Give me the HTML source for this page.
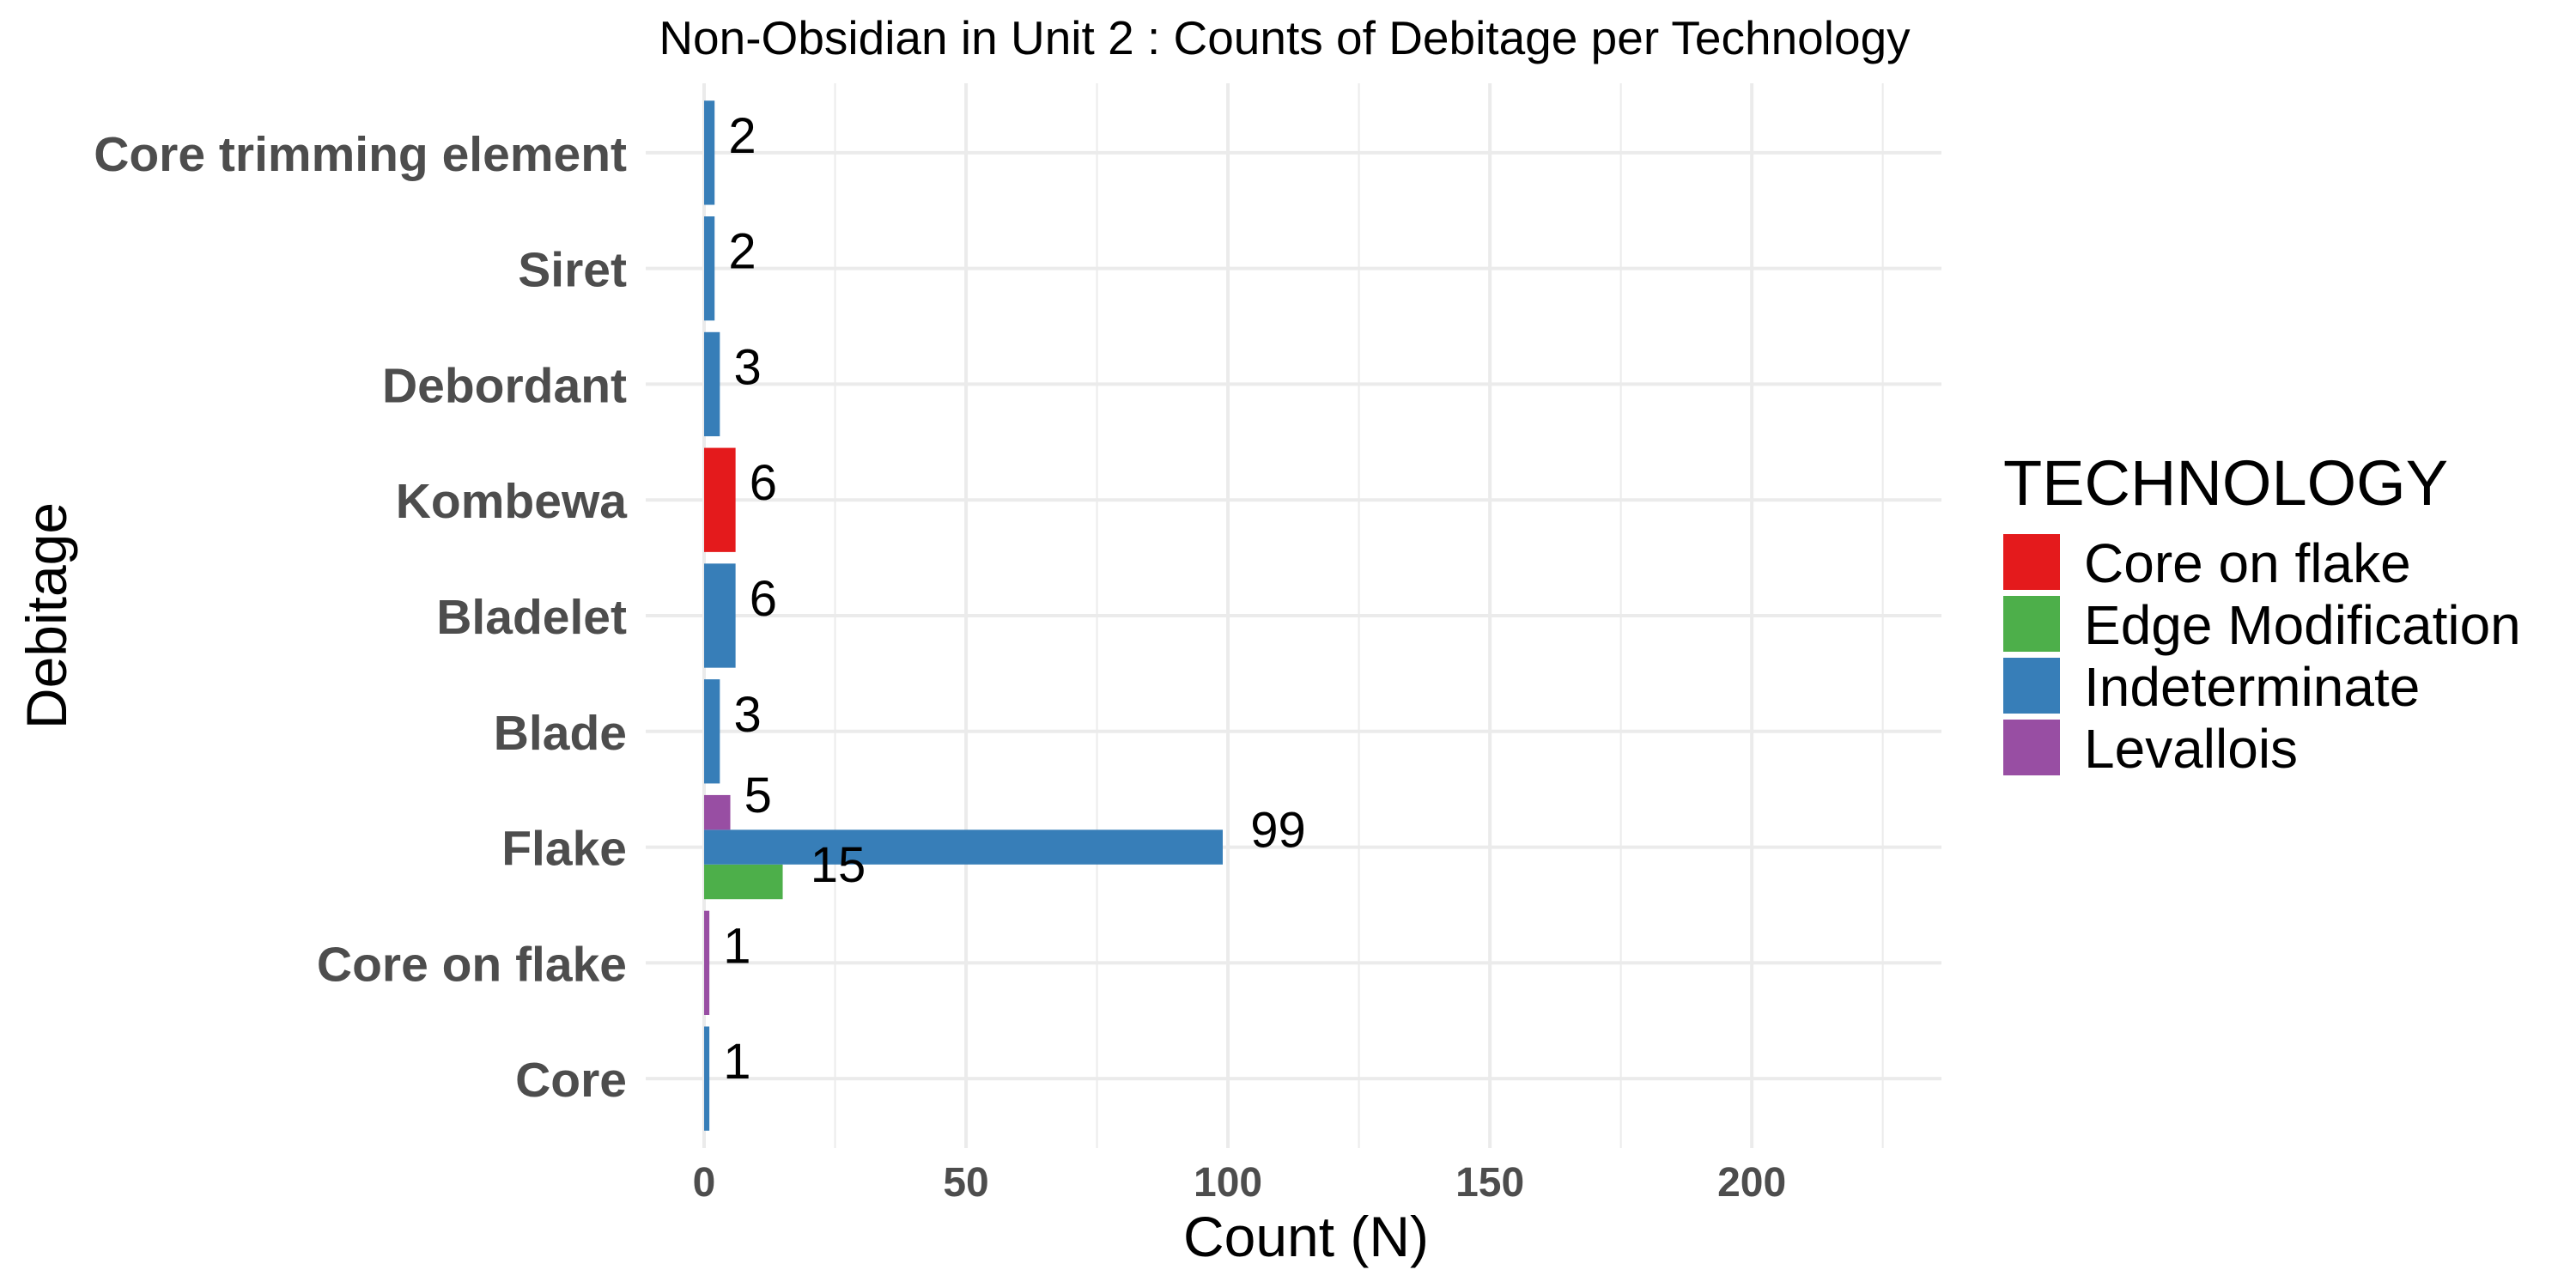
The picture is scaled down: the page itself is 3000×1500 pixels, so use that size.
<!DOCTYPE html>
<html><head><meta charset="utf-8"><style>
html,body{margin:0;padding:0;background:#fff}
svg{display:block;font-family:"Liberation Sans",Arial,sans-serif}
</style></head><body>
<svg id="chart" width="3000" height="1500" viewBox="0 0 3000 1500"></svg>
<script>
const categories = ["Core","Core on flake","Flake","Blade","Bladelet","Kombewa","Debordant","Siret","Core trimming element"];
const groups = ["Core on flake","Edge Modification","Indeterminate","Levallois"];
const colors = ["#E41A1C","#4DAF4A","#377EB8","#984EA3"];
// each row: [categoryIndex, groupIndex, count]
const barCategory = [0,1,2,2,2,3,4,5,6,7,8];
const barGroup    = [2,3,1,2,3,2,2,0,2,2,2];
const barCount    = [1,1,15,99,5,3,6,6,3,2,2];
const xTicks = [0,50,100,150,200];
const xMinor = [25,75,125,175,225];

const NS="http://www.w3.org/2000/svg";
const svg=document.getElementById('chart');
function el(tag,attrs,parent){const e=document.createElementNS(NS,tag);for(const k in attrs)e.setAttribute(k,attrs[k]);(parent||svg).appendChild(e);return e;}
const px0=752, px1=2261, py0=97, py1=1337;
const xv0=-11.15, xv1=236.2;
function X(v){return px0+(v-xv0)/(xv1-xv0)*(px1-px0);}
const catStep=(py1-py0)/9.2;
function Y(i){return py1-(i+1-0.4)*catStep;}

// gridlines
xMinor.forEach(v=>{const l=el('line',{x1:X(v),x2:X(v),y1:py0,y2:py1,stroke:'#EBEBEB','stroke-width':2});

});
xTicks.forEach(v=>{const l=el('line',{x1:X(v),x2:X(v),y1:py0,y2:py1,stroke:'#EBEBEB','stroke-width':4});


const t=el('text',{x:X(v),y:1393,'text-anchor':'middle','font-size':48,'font-weight':'bold',fill:'#4D4D4D'});
t.textContent=v;

});
categories.forEach((c,i)=>{const l=el('line',{x1:px0,x2:px1,y1:Y(i),y2:Y(i),stroke:'#EBEBEB','stroke-width':4});


const t=el('text',{x:730,y:Y(i)+21,'text-anchor':'end','font-size':57,'font-weight':'bold',fill:'#4D4D4D'});
t.textContent=c;

});

// bars
const nPer={};barCategory.forEach(c=>nPer[c]=(nPer[c]||0)+1);
const seen={};
const labelPos=[];
barCategory.forEach((c,k)=>{
  const n=nPer[c];const j=seen[c]||0;seen[c]=j+1;
  const bw=0.9*catStep/n;
  const top=Y(c)+0.45*catStep-(j+1)*bw;
  const r=el('rect',{x:X(0),y:top,width:X(barCount[k])-X(0),height:bw,fill:colors[barGroup[k]]});
  
  
  labelPos.push(top+bw/2);
});
barCount.forEach((v,k)=>{
  const t=el('text',{x:X(v),y:labelPos[k],'font-size':58,fill:'#000'});
  t.textContent=v;
  
  
  const w=t.getComputedTextLength();t.setAttribute('x',X(v)+0.5*w);
});

// titles
let t=el('text',{x:1496,y:63,'text-anchor':'middle','font-size':55,fill:'#000'});
t.textContent='Non-Obsidian in Unit 2 : Counts of Debitage per Technology';


t=el('text',{x:1521,y:1463,'text-anchor':'middle','font-size':66,fill:'#000'});
t.textContent='Count (N)';


t=el('text',{x:0,y:0,'text-anchor':'middle','font-size':66,fill:'#000',transform:'translate(77,717) rotate(-90)'});
t.textContent='Debitage';



// legend
t=el('text',{x:2333,y:588,'font-size':74,fill:'#000'});
t.textContent='TECHNOLOGY';


groups.forEach((g,i)=>{
  const r=el('rect',{x:2333,y:622+i*72,width:66,height:65,fill:colors[i]});
  
  
  const tx=el('text',{x:2427,y:678+i*72,'font-size':64,fill:'#000'});
  tx.textContent=g;
  
  
});
</script>
</body></html>
